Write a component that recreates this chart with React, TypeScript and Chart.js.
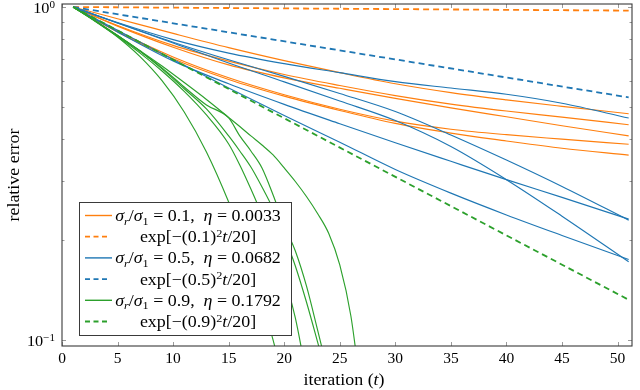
import React, { useEffect, useRef } from 'react';
import { Chart, registerables } from 'chart.js';

Chart.register(...registerables);

// ---------------- data ----------------
const T = [1, 5, 10, 15, 20, 25, 30, 35, 40, 45, 51];
const T_GREEN = [1, 3, 5, 7, 9, 11, 13, 15, 16, 17, 18, 19, 20, 21, 22, 23, 24, 25, 26, 27];
const T_DASHED = [1, 51];

const ORANGE_1 = [1, 0.922, 0.833, 0.755, 0.69, 0.635, 0.588, 0.553, 0.526, 0.503, 0.478];
const ORANGE_2 = [1, 0.88, 0.767, 0.688, 0.627, 0.581, 0.542, 0.511, 0.487, 0.467, 0.443];
const ORANGE_3 = [1, 0.876, 0.757, 0.67, 0.6125, 0.57, 0.5315, 0.498, 0.468, 0.44, 0.41];
const ORANGE_4 = [1, 0.847, 0.708, 0.613, 0.545, 0.493, 0.454, 0.4295, 0.4135, 0.401, 0.387];
const ORANGE_5 = [1, 0.842, 0.699, 0.606, 0.54, 0.489, 0.447, 0.418, 0.396, 0.3765, 0.359];
const ORANGE_DASHED = [1, 0.9753];

const BLUE_1 = [1, 0.898, 0.798, 0.727, 0.676, 0.635, 0.597, 0.571, 0.547, 0.514, 0.464];
const BLUE_2 = [1, 0.895, 0.784, 0.694, 0.619, 0.55, 0.4855, 0.4127, 0.347, 0.289, 0.229];
const BLUE_3 = [1, 0.895, 0.78, 0.679, 0.596, 0.522, 0.456, 0.381, 0.303, 0.2354, 0.1718];
const BLUE_4 = [1, 0.842, 0.689, 0.588, 0.51, 0.446, 0.391, 0.344, 0.303, 0.268, 0.2306];
const BLUE_5 = [1, 0.851, 0.6955, 0.571, 0.472, 0.3926, 0.325, 0.276, 0.2374, 0.206, 0.1745];
const BLUE_DASHED = [1, 0.5353];

const GREEN_1 = [1, 0.907, 0.813, 0.711, 0.601, 0.484, 0.367, 0.2595, 0.2116, 0.1688, 0.1315, 0.0999, 0.0739];
const GREEN_2 = [1, 0.905, 0.815, 0.728, 0.6424, 0.558, 0.474, 0.3878, 0.3354, 0.284, 0.2374, 0.1942, 0.1557, 0.1164, 0.0785];
const GREEN_3 = [1, 0.908, 0.821, 0.7376, 0.652, 0.568, 0.494, 0.41, 0.3695, 0.3307, 0.288, 0.2474, 0.2052, 0.1668, 0.13, 0.0987, 0.0743];
const GREEN_4 = [1, 0.908, 0.821, 0.7376, 0.656, 0.5752, 0.5078, 0.4642, 0.41, 0.3695, 0.3285, 0.2725, 0.2214, 0.185, 0.1453, 0.1072, 0.0785];
const GREEN_5 = [1, 0.908, 0.821, 0.74, 0.665, 0.593, 0.5275, 0.466, 0.4376, 0.41, 0.385, 0.3594, 0.3285, 0.2992, 0.2697, 0.2398, 0.2091, 0.168, 0.118, 0.066];
const GREEN_DASHED = [1, 0.132];

const X_TICKS = [0, 5, 10, 15, 20, 25, 30, 35, 40, 45, 50];
const Y_MAJOR = [1, 0.1];
const Y_MINOR = [0.2, 0.3, 0.4, 0.5, 0.6, 0.7, 0.8, 0.9];
const Y_LABELS = [
  { value: 1, base: '10', exp: '0' },
  { value: 0.1, base: '10', exp: '−1' },
];

const ORANGE = '#ff7f0e';
const BLUE = '#1f77b4';
const GREEN = '#2ca02c';

type Seg = { t: string; it?: boolean; s?: 'sub' | 'sup' };

const LEGEND_ROWS: { color: string; dashed: boolean; segs: Seg[] }[] = [
  {
    color: ORANGE, dashed: false,
    segs: [{ t: 'σ', it: true }, { t: 'r', it: true, s: 'sub' }, { t: '/' }, { t: 'σ', it: true }, { t: '1', s: 'sub' },
      { t: ' = 0.1,  ' }, { t: 'η', it: true }, { t: ' = 0.0033' }],
  },
  { color: ORANGE, dashed: true, segs: [{ t: 'exp[−(0.1)' }, { t: '2', s: 'sup' }, { t: 't', it: true }, { t: '/20]' }] },
  {
    color: BLUE, dashed: false,
    segs: [{ t: 'σ', it: true }, { t: 'r', it: true, s: 'sub' }, { t: '/' }, { t: 'σ', it: true }, { t: '1', s: 'sub' },
      { t: ' = 0.5,  ' }, { t: 'η', it: true }, { t: ' = 0.0682' }],
  },
  { color: BLUE, dashed: true, segs: [{ t: 'exp[−(0.5)' }, { t: '2', s: 'sup' }, { t: 't', it: true }, { t: '/20]' }] },
  {
    color: GREEN, dashed: false,
    segs: [{ t: 'σ', it: true }, { t: 'r', it: true, s: 'sub' }, { t: '/' }, { t: 'σ', it: true }, { t: '1', s: 'sub' },
      { t: ' = 0.9,  ' }, { t: 'η', it: true }, { t: ' = 0.1792' }],
  },
  { color: GREEN, dashed: true, segs: [{ t: 'exp[−(0.9)' }, { t: '2', s: 'sup' }, { t: 't', it: true }, { t: '/20]' }] },
];

const FONT = "'Liberation Serif', 'Times New Roman', serif";
const BASE = 15.5;
const TEXT = 16;
const WIDEN = 1.12;

function segFont(seg: Seg, base: number) {
  const size = seg.s ? base * 0.68 : base;
  return `${seg.it ? 'italic ' : ''}${size}px ${FONT}`;
}
function richWidth(ctx: CanvasRenderingContext2D, segs: Seg[], base: number) {
  let w = 0;
  for (const s of segs) {
    ctx.font = segFont(s, base);
    w += ctx.measureText(s.t).width;
  }
  return w;
}
function drawRich(
  ctx: CanvasRenderingContext2D, segs: Seg[], x: number, y: number, base: number,
  align: 'left' | 'center' | 'right', sx = 1,
) {
  const w = richWidth(ctx, segs, base) * sx;
  const start = align === 'center' ? x - w / 2 : align === 'right' ? x - w : x;
  ctx.save();
  ctx.translate(start, y);
  ctx.scale(sx, 1);
  ctx.textBaseline = 'alphabetic';
  ctx.textAlign = 'left';
  let cx = 0;
  for (const s of segs) {
    ctx.font = segFont(s, base);
    const dy = s.s === 'sub' ? base * 0.22 : s.s === 'sup' ? -base * 0.33 : 0;
    ctx.fillText(s.t, cx, dy);
    cx += ctx.measureText(s.t).width;
  }
  ctx.restore();
}

const decorPlugin = {
  id: 'decor',
  afterDraw(chart: any) {
    const { ctx, chartArea: a, scales } = chart;
    const xs = scales.x;
    const ys = scales.y;
    ctx.save();
    // tick marks (inside)
    ctx.strokeStyle = '#9a9a9a';
    ctx.lineWidth = 1;
    ctx.beginPath();
    for (const v of X_TICKS) {
      const px = Math.round(xs.getPixelForValue(v)) + 0.5;
      ctx.moveTo(px, a.bottom);
      ctx.lineTo(px, a.bottom - 4);
      ctx.moveTo(px, a.top);
      ctx.lineTo(px, a.top + 4);
    }
    for (const v of Y_MAJOR) {
      const py = Math.round(ys.getPixelForValue(v)) + 0.5;
      ctx.moveTo(a.left, py);
      ctx.lineTo(a.left + 4, py);
      ctx.moveTo(a.right, py);
      ctx.lineTo(a.right - 4, py);
    }
    for (const v of Y_MINOR) {
      const py = Math.round(ys.getPixelForValue(v)) + 0.5;
      ctx.moveTo(a.left, py);
      ctx.lineTo(a.left + 2.5, py);
      ctx.moveTo(a.right, py);
      ctx.lineTo(a.right - 2.5, py);
    }
    ctx.stroke();

    // frame
    ctx.strokeStyle = '#3a3a3a';
    ctx.lineWidth = 1.1;
    ctx.strokeRect(a.left, a.top, a.right - a.left, a.bottom - a.top);

    ctx.fillStyle = '#000';
    // y tick labels
    for (const lab of Y_LABELS) {
      const py = ys.getPixelForValue(lab.value);
      drawRich(ctx, [{ t: lab.base }, { t: lab.exp, s: 'sup' }], a.left - 7, py + 6, BASE, 'right', 1.05);
    }

    // x title
    drawRich(ctx, [{ t: 'iteration (' }, { t: 't', it: true }, { t: ')' }], (a.left + a.right) / 2 - 3, 385, TEXT, 'center', WIDEN);

    // y title
    ctx.save();
    ctx.translate(19, (a.top + a.bottom) / 2);
    ctx.rotate(-Math.PI / 2);
    drawRich(ctx, [{ t: 'relative error' }], 0, 0, TEXT, 'center', WIDEN);
    ctx.restore();

    // legend
    const lx = 79.5, ly = 202.5, lw = 212, lh = 133;
    ctx.fillStyle = '#fff';
    ctx.fillRect(lx, ly, lw, lh);
    ctx.strokeStyle = '#3a3a3a';
    ctx.lineWidth = 1;
    ctx.strokeRect(lx, ly, lw, lh);
    LEGEND_ROWS.forEach((row, i) => {
      const cy = 215.5 + 21.2 * i;
      ctx.strokeStyle = row.color;
      ctx.lineWidth = row.dashed ? 1.8 : 1.4;
      ctx.setLineDash(row.dashed ? [5, 3.5] : []);
      ctx.beginPath();
      ctx.moveTo(85, cy);
      ctx.lineTo(row.dashed ? 107 : 112, cy);
      ctx.stroke();
      ctx.setLineDash([]);
      ctx.fillStyle = '#000';
      drawRich(ctx, row.segs, 198, cy + 5.5, TEXT, 'center', WIDEN);
    });
    ctx.restore();
  },
};

function pts(xs: number[], ys: number[]) {
  return ys.map((v, i) => ({ x: xs[i], y: v }));
}

function solid(label: string, xs: number[], ys: number[], color: string, order: number) {
  return {
    label,
    data: pts(xs, ys),
    borderColor: color,
    backgroundColor: color,
    borderWidth: 1.15,
    pointRadius: 0,
    fill: false,
    cubicInterpolationMode: 'monotone' as const,
    order,
  };
}
function dashed(label: string, ys: number[], color: string, order: number) {
  return {
    label,
    data: pts(T_DASHED, ys),
    borderColor: color,
    backgroundColor: color,
    borderWidth: 1.8,
    borderDash: [6, 4],
    pointRadius: 0,
    fill: false,
    order,
  };
}

export default function App() {
  const ref = useRef<HTMLCanvasElement | null>(null);
  useEffect(() => {
    if (!ref.current) return;
    const chart = new Chart(ref.current, {
      type: 'line',
      data: {
        datasets: [
          solid('σr/σ1 = 0.1 run 1', T, ORANGE_1, ORANGE, 6),
          solid('σr/σ1 = 0.1 run 2', T, ORANGE_2, ORANGE, 6),
          solid('σr/σ1 = 0.1 run 3', T, ORANGE_3, ORANGE, 6),
          solid('σr/σ1 = 0.1 run 4', T, ORANGE_4, ORANGE, 6),
          solid('σr/σ1 = 0.1 run 5', T, ORANGE_5, ORANGE, 6),
          dashed('exp[−(0.1)²t/20]', ORANGE_DASHED, ORANGE, 5),
          solid('σr/σ1 = 0.5 run 1', T, BLUE_1, BLUE, 4),
          solid('σr/σ1 = 0.5 run 2', T, BLUE_2, BLUE, 4),
          solid('σr/σ1 = 0.5 run 3', T, BLUE_3, BLUE, 4),
          solid('σr/σ1 = 0.5 run 4', T, BLUE_4, BLUE, 4),
          solid('σr/σ1 = 0.5 run 5', T, BLUE_5, BLUE, 4),
          dashed('exp[−(0.5)²t/20]', BLUE_DASHED, BLUE, 3),
          solid('σr/σ1 = 0.9 run 1', T_GREEN, GREEN_1, GREEN, 2),
          solid('σr/σ1 = 0.9 run 2', T_GREEN, GREEN_2, GREEN, 2),
          solid('σr/σ1 = 0.9 run 3', T_GREEN, GREEN_3, GREEN, 2),
          solid('σr/σ1 = 0.9 run 4', T_GREEN, GREEN_4, GREEN, 2),
          solid('σr/σ1 = 0.9 run 5', T_GREEN, GREEN_5, GREEN, 2),
          dashed('exp[−(0.9)²t/20]', GREEN_DASHED, GREEN, 1),
        ],
      },
      options: {
        animation: false,
        responsive: false,
        devicePixelRatio: 1,
        layout: { padding: { left: 0, right: 8, top: 4, bottom: 0 } },
        plugins: { legend: { display: false }, tooltip: { enabled: false } },
        elements: { point: { radius: 0 } },
        scales: {
          x: {
            type: 'linear',
            min: 0,
            max: 51.3,
            grid: { display: false, drawTicks: false },
            border: { display: false },
            ticks: {
              stepSize: 5,
              includeBounds: false,
              padding: 4,
              color: '#000',
              maxRotation: 0,
              autoSkip: false,
              font: { family: FONT, size: BASE },
            },
            afterFit: (s: any) => { s.height = 44; },
          },
          y: {
            type: 'logarithmic',
            min: 0.0959,
            max: 1.021,
            grid: { display: false, drawTicks: false },
            border: { display: false },
            ticks: { display: false },
            afterFit: (s: any) => { s.width = 62; },
          },
        },
      },
      plugins: [decorPlugin],
    } as any);
    return () => chart.destroy();
  }, []);
  return (
    <div style={{ position: 'absolute', left: 0, top: 0, width: 640, height: 390, background: '#fff' }}>
      <canvas ref={ref} width={640} height={390} style={{ display: 'block', width: 640, height: 390 }} />
    </div>
  );
}
